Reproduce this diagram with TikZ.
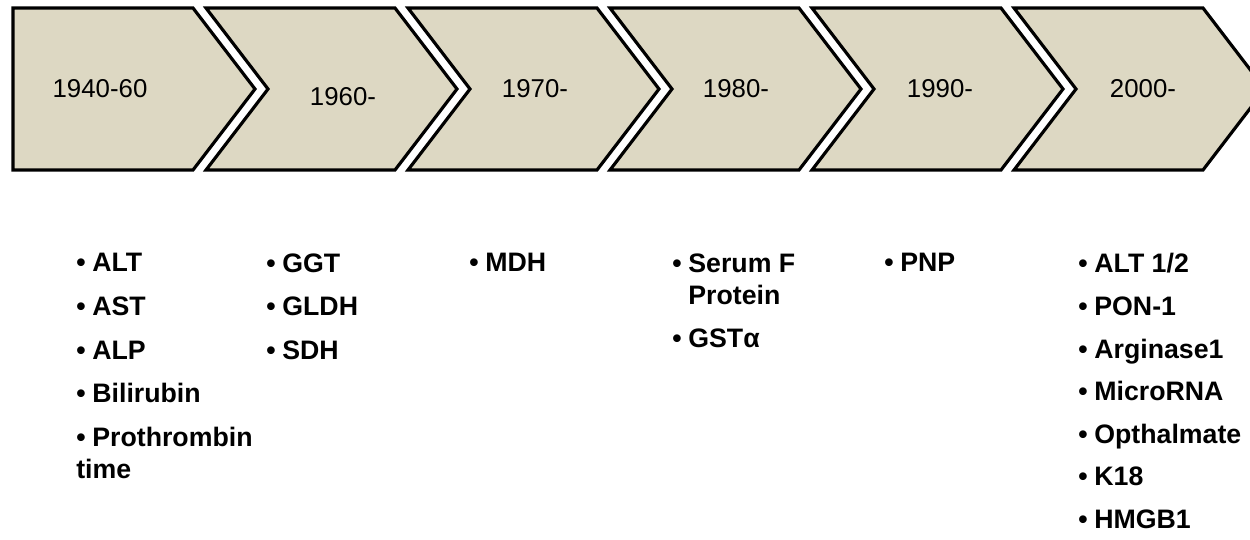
\documentclass[tikz,border=0pt]{standalone}
\usepackage{fontspec}
\setmainfont{Liberation Sans}
\usepackage{tikz}
\usetikzlibrary{positioning}
\definecolor{EraBeige}{HTML}{DDD8C3}
\newcommand{\bul}{\textbullet\hspace{0.25em}}
\newcommand{\nobul}{\hphantom{\textbullet\hspace{0.25em}}}

\begin{document}
\begin{tikzpicture}[x=0.02cm,y=-0.02cm,
    chev/.style={draw=black,line width=1.8pt,fill=EraBeige,line join=miter},
    era/.style={font=\fontsize{14.7}{17}\selectfont,inner sep=0pt},
    marks/.style={font=\fontsize{15.2}{18.3}\selectfont\bfseries,align=left,anchor=north west,inner sep=0pt}
  ]
    \useasboundingbox (0,0) rectangle (1250,539);
    \clip (0,0) rectangle (1250,539);
    % first block, flat left side
    \draw[chev] (13,8) -- (193,8) -- (255,89) -- (193,170) -- (13,170) -- cycle;
    % the other chevrons
    \foreach \k in {1,...,5}{
      \draw[chev] ({4+202*\k},8) -- ({193+202*\k},8) -- ({255+202*\k},89)
        -- ({193+202*\k},170) -- ({4+202*\k},170) -- ({66+202*\k},89) -- cycle;
    }
    \node[era] (y40) at (100,89) {1940-60};
    \node[era] (y60) at (343,97) {1960-};
    \node[era] (y70) at (535,89) {1970-};
    \node[era] (y80) at (736,89) {1980-};
    \node[era] (y90) at (940,89) {1990-};
    \node[era] (y00) at (1143,89) {2000-};
    % markers per era
    \node[marks] (m40) at (76,253) {\bul ALT\\[0.23cm]\bul AST\\[0.23cm]\bul ALP\\[0.23cm]\bul Bilirubin\\[0.23cm]\bul Prothrombin\\time};
    \node[marks] (m60) at (266,253) {\bul GGT\\[0.23cm]\bul GLDH\\[0.23cm]\bul SDH};
    \node[marks] (m70) at (469,253) {\bul MDH};
    \node[marks] (m80) at (672,253) {\bul Serum F\\\nobul Protein\\[0.23cm]\bul GSTα};
    \node[marks] (m90) at (884,253) {\bul PNP};
    \node[marks] (m00) at (1078,253) {\bul ALT 1/2\\[0.21cm]\bul PON-1\\[0.21cm]\bul Arginase1\\[0.21cm]\bul MicroRNA\\[0.21cm]\bul Opthalmate\\[0.21cm]\bul K18\\[0.21cm]\bul HMGB1};
  \end{tikzpicture}
\end{document}
